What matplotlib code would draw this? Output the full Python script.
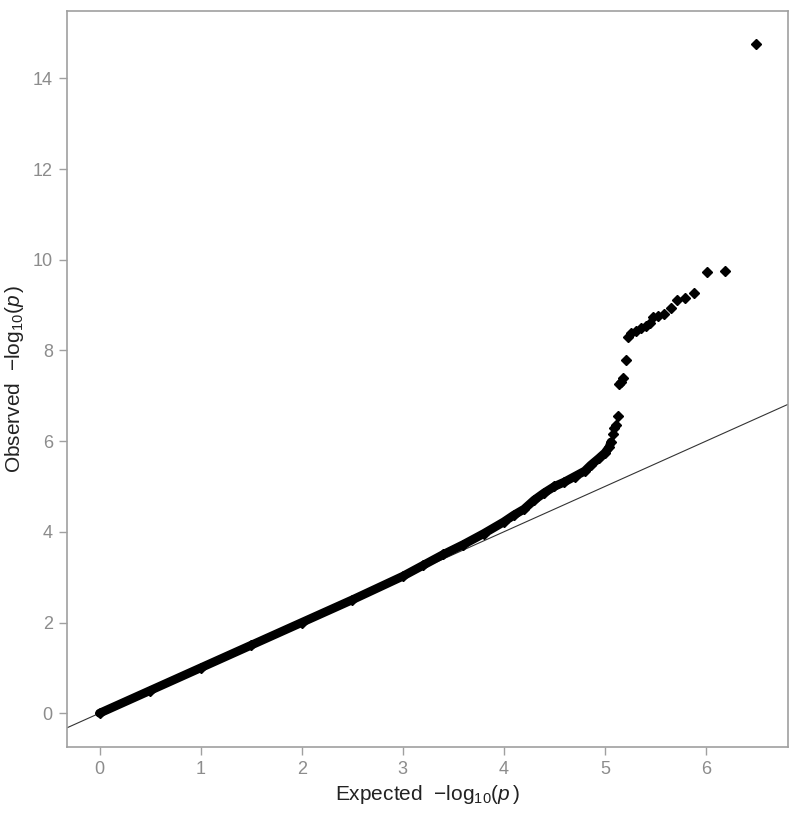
import numpy as np
import matplotlib.pyplot as plt

# dense part of the QQ curve
exp_dense = [0.0, 0.5, 1.0, 1.5, 2.0, 2.5, 3.0, 3.2, 3.4, 3.6, 3.8, 4.0, 4.1, 4.2,
             4.3, 4.4, 4.5, 4.6, 4.7, 4.8, 4.86, 4.94, 5.0, 5.04, 5.06]
obs_dense = [0.0, 0.5, 1.0, 1.5, 2.0, 2.5, 3.02, 3.26, 3.5, 3.72, 3.96, 4.22, 4.37, 4.5,
             4.7, 4.86, 5.0, 5.1, 5.22, 5.34, 5.47, 5.62, 5.74, 5.86, 5.98]

# sparse tail points
exp_tail = [5.08, 5.09, 5.11, 5.125, 5.14, 5.16, 5.18, 5.21, 5.23, 5.26, 5.31, 5.36,
            5.41, 5.45, 5.48, 5.53, 5.58, 5.65, 5.71, 5.79, 5.88, 6.01, 6.19, 6.49]
obs_tail = [6.15, 6.28, 6.36, 6.56, 7.27, 7.31, 7.39, 7.79, 8.29, 8.38, 8.43, 8.49,
            8.54, 8.60, 8.74, 8.77, 8.80, 8.93, 9.11, 9.15, 9.26, 9.72, 9.75, 14.75]

plt.rcParams['font.family'] = ['Liberation Sans', 'DejaVu Sans']
plt.rcParams['mathtext.fontset'] = 'custom'
plt.rcParams['mathtext.rm'] = 'Liberation Sans'
plt.rcParams['mathtext.it'] = 'Liberation Sans:italic'
plt.rcParams['axes.unicode_minus'] = True

fig = plt.figure(figsize=(8, 8.13), dpi=100)
ax = fig.add_axes([0.0834, 0.0816, 0.902, 0.905])

xmax = max(exp_tail)
ymax = max(obs_tail)
ax.set_xlim(-0.05 * xmax, xmax * 1.05)
ax.set_ylim(-0.05 * ymax, ymax * 1.05)

# reference line y = x
ax.plot([-1, 20], [-1, 20], color='#333333', lw=0.8, zorder=1)

ax.plot(exp_dense, obs_dense, color='black', lw=6.3, solid_capstyle='round',
        solid_joinstyle='round', zorder=2)
ax.plot(exp_dense, obs_dense, 'D', color='black', ms=5, zorder=2)
ax.plot(exp_tail, obs_tail, 'D', color='black', ms=4.8, zorder=3)

ax.set_xticks(range(0, 7))
ax.set_yticks(range(0, 15, 2))

for s in ax.spines.values():
    s.set_color('#a0a0a0')
    s.set_linewidth(1.2)

ax.tick_params(axis='both', which='major', direction='out', length=6, width=1,
               color='#a0a0a0', labelcolor='#8c8c8c', labelsize=13, pad=4)

# white tick marks crossing the top and right edges
top = ax.secondary_xaxis('top')
top.set_xticks(range(0, 7))
top.tick_params(direction='inout', length=5, width=1.5, color='white', labeltop=False)
top.spines['top'].set_visible(False)
right = ax.secondary_yaxis('right')
right.set_yticks(range(0, 15, 2))
right.tick_params(direction='inout', length=5, width=1.5, color='white', labelright=False)
right.spines['right'].set_visible(False)

ax.set_xlabel(r'Expected  $-\mathrm{log}_{10}(\mathit{p}\,)$', fontsize=15, color='#222222', labelpad=4)
ax.set_ylabel(r'Observed  $-\mathrm{log}_{10}(\mathit{p}\,)$', fontsize=15, color='#222222', labelpad=5)

fig.savefig('out.png', dpi=100)
